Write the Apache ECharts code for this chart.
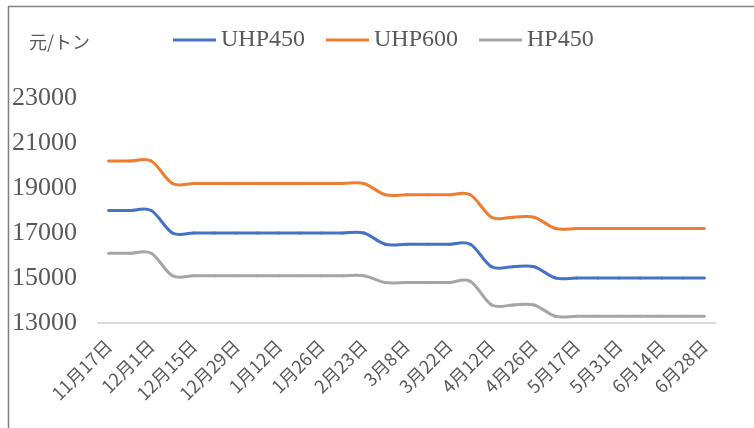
<!DOCTYPE html>
<html>
<head>
<meta charset="utf-8">
<script src="https://cdn.jsdelivr.net/npm/echarts@6/dist/echarts.min.js"></script>
<style>
html,body{margin:0;padding:0;background:#fff;}
#chart{width:754px;height:428px;}
</style>
</head>
<body>
<div id="chart"></div>
<script>
// Category dates (weekly; every other label shown)
var dates = ['11月17日','11月24日','12月1日','12月8日','12月15日','12月22日','12月29日','1月5日','1月12日','1月19日','1月26日','2月9日','2月23日','3月1日','3月8日','3月15日','3月22日','3月29日','4月12日','4月19日','4月26日','5月10日','5月17日','5月24日','5月31日','6月7日','6月14日','6月21日','6月28日'];
var uhp450 = [18000,18000,18000,17000,17000,17000,17000,17000,17000,17000,17000,17000,17000,16500,16500,16500,16500,16500,15500,15500,15500,15000,15000,15000,15000,15000,15000,15000,15000];
var uhp600 = [20200,20200,20200,19200,19200,19200,19200,19200,19200,19200,19200,19200,19200,18700,18700,18700,18700,18700,17700,17700,17700,17200,17200,17200,17200,17200,17200,17200,17200];
var hp450  = [16100,16100,16100,15100,15100,15100,15100,15100,15100,15100,15100,15100,15100,14800,14800,14800,14800,14850,13800,13800,13800,13300,13300,13300,13300,13300,13300,13300,13300];
var seriesNames = ['UHP450','UHP600','HP450'];
var seriesColors = ['#4472C4','#ED7D31','#A5A5A5'];
var unitLabel = '元/トン';
var yMin = 13000, yMax = 23000, yInterval = 2000;

var chart = echarts.init(document.getElementById('chart'), null, {renderer:'canvas'});

// Smoothed line (Catmull-Rom, like spreadsheet smoothed lines) drawn through the axes' scales
function smoothLine(name, values, color){
  return {
    name:name, type:'custom', coordinateSystem:'cartesian2d',
    data: values.map(function(v,i){ return [i, v]; }),
    encode:{x:0, y:1},
    itemStyle:{color:color},
    renderItem:function(params, api){
      if (params.dataIndexInside !== 0) return null;
      var n = values.length, pts = [];
      for (var i = 0; i < n; i++) pts.push(api.coord([api.value(0, i), api.value(1, i)]));
      var children = [];
      for (var k = 0; k < n - 1; k++) {
        var p0 = pts[Math.max(k-1,0)], p1 = pts[k], p2 = pts[k+1], p3 = pts[Math.min(k+2,n-1)];
        children.push({type:'bezierCurve', silent:true, shape:{
          x1:p1[0], y1:p1[1], x2:p2[0], y2:p2[1],
          cpx1:p1[0] + (p2[0]-p0[0])/6, cpy1:p1[1] + (p2[1]-p0[1])/6,
          cpx2:p2[0] - (p3[0]-p1[0])/6, cpy2:p2[1] - (p3[1]-p1[1])/6
        }, style:{stroke:color, lineWidth:3, fill:null, lineCap:'round', lineJoin:'round'}});
      }
      return {type:'group', children:children};
    }
  };
}

chart.setOption({
  animation:false,
  backgroundColor:'#fff',
  graphic:[
    {type:'line', shape:{x1:8, y1:6.5, x2:754, y2:6.5}, style:{stroke:'#808080', lineWidth:1.5}},
    {type:'line', shape:{x1:8.5, y1:6, x2:8.5, y2:428}, style:{stroke:'#808080', lineWidth:1.5}},
    {type:'text', left:29, top:33, style:{text:unitLabel, fontSize:18, fill:'#595959', fontFamily:'Noto Sans CJK JP'}}
  ],
  legend:{
    left:173, top:28, padding:0, icon:'rect', itemWidth:43, itemHeight:3, itemGap:21,
    data:seriesNames,
    textStyle:{fontFamily:'Liberation Serif', fontSize:24, color:'#595959'}
  },
  grid:{left:98, right:39, top:98, bottom:105, containLabel:false},
  xAxis:{
    type:'category', data:dates, boundaryGap:true,
    axisLine:{lineStyle:{color:'#d9d9d9', width:2}},
    axisTick:{show:false},
    axisLabel:{interval:1, rotate:45, margin:20, fontSize:18, color:'#595959', fontFamily:'Noto Sans CJK JP'}
  },
  yAxis:{
    type:'value', min:yMin, max:yMax, interval:yInterval,
    axisLine:{show:false}, axisTick:{show:false}, splitLine:{show:false},
    axisLabel:{margin:21, fontSize:26, color:'#595959', fontFamily:'Liberation Serif',
      formatter:function(v){ return String(v); }}
  },
  series:[
    smoothLine(seriesNames[0], uhp450, seriesColors[0]),
    smoothLine(seriesNames[1], uhp600, seriesColors[1]),
    smoothLine(seriesNames[2], hp450, seriesColors[2])
  ]
});
</script>
</body>
</html>
